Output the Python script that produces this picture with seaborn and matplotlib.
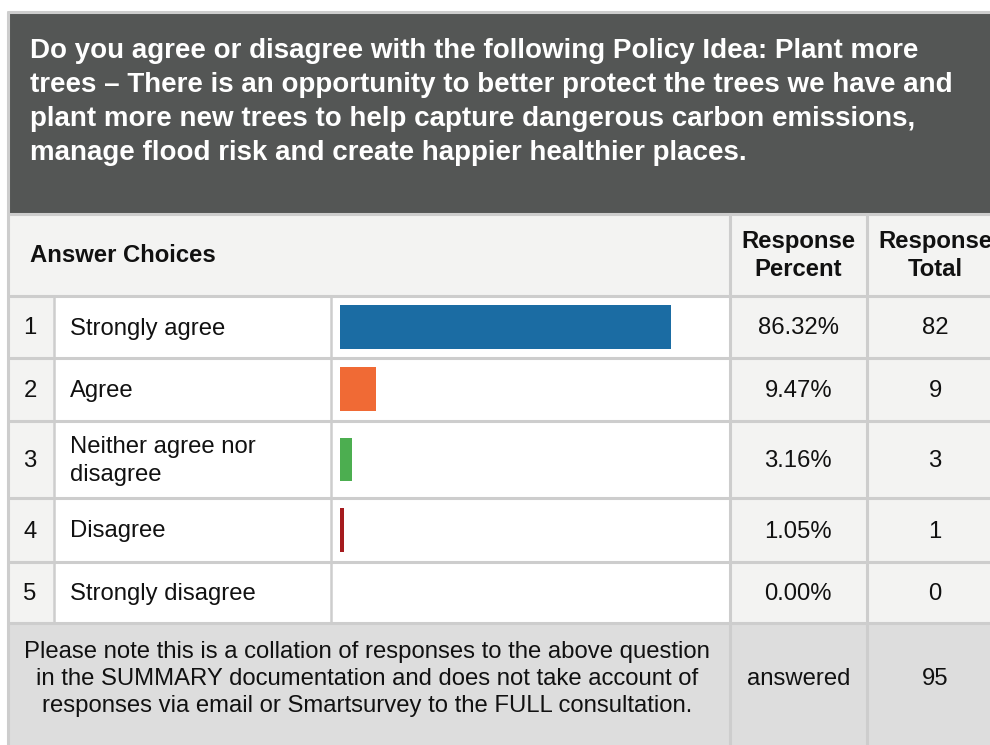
import numpy as np
import pandas as pd
import matplotlib
matplotlib.use("Agg")
import matplotlib.pyplot as plt
from matplotlib.patches import Rectangle
import seaborn as sns

# data
question = ["Do you agree or disagree with the following Policy Idea: Plant more",
            "trees \u2013 There is an opportunity to better protect the trees we have and",
            "plant more new trees to help capture dangerous carbon emissions,",
            "manage flood risk and create happier healthier places."]
choices = ["Strongly agree", "Agree", "Neither agree nor\ndisagree", "Disagree", "Strongly disagree"]
percents = [86.32, 9.47, 3.16, 1.05, 0.00]
totals = [82, 9, 3, 1, 0]
bar_colors = ["#1b6ca3", "#f06a35", "#4cae50", "#a51b1e", "#888888"]
answered = 95
note = ["Please note this is a collation of responses to the above question",
        "in the SUMMARY documentation and does not take account of",
        "responses via email or Smartsurvey to the FULL consultation."]

sns.set_theme(style="white")
plt.rcParams["font.family"] = ["Liberation Sans", "DejaVu Sans"]

W, H = 990, 745
fig = plt.figure(figsize=(W / 100, H / 100), dpi=100)
ax = fig.add_axes([0, 0, 1, 1])
ax.set_xlim(0, W)
ax.set_ylim(H, 0)
ax.axis("off")

LINE = "#cdcdcd"
LIGHT = "#f3f3f2"
INK = "#111111"
FS = 17.2

# layout (pixels)
x0, x_num, x_bar, x_pct, x_tot = 8, 54, 331, 729.5, 867
y_title, y_head, y_rows = 12, 214, 296
row_edges = [296, 358, 421, 498, 562, 623]
y_foot = 623
xc_pct = (x_pct + x_tot) / 2
xc_tot = 935

# title band
ax.add_patch(Rectangle((x0, y_title), W - x0, y_head - y_title, color="#545655", zorder=0))
for k, line in enumerate(question):
    ax.text(30, 58.5 + 34 * k, line, color="white", fontsize=20, fontweight="bold",
            va="baseline", ha="left")

# header
ax.add_patch(Rectangle((x0, y_head), W - x0, y_rows - y_head, color=LIGHT, zorder=0))
ax.text(30, 262, "Answer Choices", fontsize=FS, fontweight="bold", va="baseline", color=INK)
for k, (a, b) in enumerate([("Response", "Response"), ("Percent", "Total")]):
    ax.text(xc_pct, 248 + 28 * k, a, fontsize=FS, fontweight="bold", va="baseline", ha="center", color=INK)
    ax.text(xc_tot, 248 + 28 * k, b, fontsize=FS, fontweight="bold", va="baseline", ha="center", color=INK)

# body backgrounds
ax.add_patch(Rectangle((x0, y_rows), x_num - x0, y_foot - y_rows, color=LIGHT, zorder=0))
ax.add_patch(Rectangle((x_num, y_rows), x_pct - x_num, y_foot - y_rows, color="white", zorder=0))
ax.add_patch(Rectangle((x_pct, y_rows), W - x_pct, y_foot - y_rows, color=LIGHT, zorder=0))
ax.add_patch(Rectangle((x0, y_foot), W - x0, H - y_foot, color="#dddddd", zorder=0))

# grid lines
for y in [y_title, y_head, y_rows] + row_edges[1:]:
    ax.plot([x0, W], [y, y], color=LINE, lw=2.2, zorder=1)
ax.plot([x0, x0], [y_title, H], color=LINE, lw=2.2, zorder=1)
for x in [x_num, x_bar]:
    ax.plot([x, x], [y_rows, y_foot], color=LINE, lw=1.8, zorder=1)
for x in [x_pct, x_tot]:
    ax.plot([x, x], [y_head, H], color=LINE, lw=2.2, zorder=1)

# rows
px_per_pct = 331 / 86.32
for i, (lab, pct, tot, col) in enumerate(zip(choices, percents, totals, bar_colors)):
    yc = (row_edges[i] + row_edges[i + 1]) / 2
    yb = yc + 7.5
    ax.text(30, yb, str(i + 1), fontsize=FS, ha="center", va="baseline", color=INK)
    parts = lab.split("\n")
    for k, part in enumerate(parts):
        ax.text(70, yb + 29 * (k - (len(parts) - 1) / 2), part, fontsize=FS,
                ha="left", va="baseline", color=INK)
    ax.text(xc_pct, yb, f"{pct:.2f}%", fontsize=FS, ha="center", va="baseline", color=INK)
    ax.text(xc_tot, yb, str(tot), fontsize=FS, ha="center", va="baseline", color=INK)

    # bar cell, 0-100 % scale
    bh = 44
    bax = fig.add_axes([340 / W, 1 - (yc + bh / 2) / H, 100 * px_per_pct / W, bh / H])
    bdf = pd.DataFrame({"choice": [lab], "pct": [pct]})
    sns.barplot(data=bdf, x="pct", y="choice", color=col, saturation=1, width=1,
                linewidth=0, ax=bax)
    bax.set_xlim(0, 100)
    bax.set_ylim(0.5, -0.5)
    bax.axis("off")

# footer
for k, line in enumerate(note):
    ax.text(367, 658 + 27 * k, line, fontsize=FS, ha="center", va="baseline", color=INK)
ax.text(xc_pct, 685, "answered", fontsize=FS, ha="center", va="baseline", color=INK)
ax.text(xc_tot, 685, str(answered), fontsize=FS, ha="center", va="baseline", color=INK)

fig.savefig("out.png", dpi=100)
